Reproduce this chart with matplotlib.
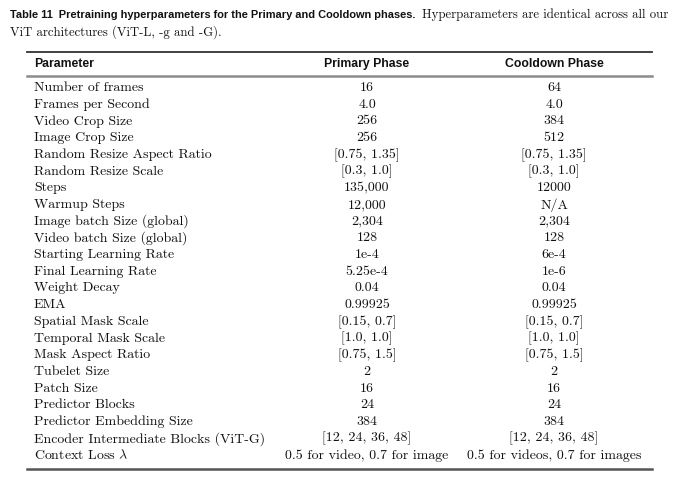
import matplotlib
matplotlib.use("Agg")
import matplotlib.pyplot as plt
from matplotlib.lines import Line2D

plt.rcParams['mathtext.fontset'] = 'cm'

caption_bold = "Table 11  Pretraining hyperparameters for the Primary and Cooldown phases."
caption_rest1 = "Hyperparameters are identical across all our"
caption_rest2 = "ViT architectures (ViT-L, -g and -G)."

headers = ["Parameter", "Primary Phase", "Cooldown Phase"]

parameters = [
    "Number of frames", "Frames per Second", "Video Crop Size", "Image Crop Size",
    "Random Resize Aspect Ratio", "Random Resize Scale", "Steps", "Warmup Steps",
    "Image batch Size (global)", "Video batch Size (global)", "Starting Learning Rate",
    "Final Learning Rate", "Weight Decay", "EMA", "Spatial Mask Scale",
    "Temporal Mask Scale", "Mask Aspect Ratio", "Tubelet Size", "Patch Size",
    "Predictor Blocks", "Predictor Embedding Size",
    "Encoder Intermediate Blocks (ViT-G)", r"Context Loss $\lambda$",
]
primary = [
    "16", "4.0", "256", "256", "[0.75, 1.35]", "[0.3, 1.0]", "135,000", "12,000",
    "2,304", "128", "1e-4", "5.25e-4", "0.04", "0.99925", "[0.15, 0.7]",
    "[1.0, 1.0]", "[0.75, 1.5]", "2", "16", "24", "384", "[12, 24, 36, 48]",
    "0.5 for video, 0.7 for image",
]
cooldown = [
    "64", "4.0", "384", "512", "[0.75, 1.35]", "[0.3, 1.0]", "12000", "N/A",
    "2,304", "128", "6e-4", "1e-6", "0.04", "0.99925", "[0.15, 0.7]",
    "[1.0, 1.0]", "[0.75, 1.5]", "2", "16", "24", "384", "[12, 24, 36, 48]",
    "0.5 for videos, 0.7 for images",
]

W, H = 680, 483
fig = plt.figure(figsize=(W / 100, H / 100), dpi=100)
fig.patch.set_facecolor("white")

def fx(x):
    return x / W

def fy(y):
    return 1 - y / H

SERIF = "cmr10"
SANS = "Liberation Sans"
fs_body = 10.0
fs_cap = 9.2

# caption
t1 = fig.text(fx(10), fy(15), caption_bold, fontfamily=SANS, fontweight="bold",
              fontsize=7.95, va="center", ha="left", color="#111111")
fig.canvas.draw()
bb = t1.get_window_extent()
x_end = bb.x1 / W
fig.text(x_end + fx(7), fy(15), caption_rest1, fontfamily=SERIF, fontsize=fs_cap,
         va="center", ha="left", color="#111111")
fig.text(fx(10), fy(32), caption_rest2, fontfamily=SERIF, fontsize=fs_cap,
         va="center", ha="left", color="#111111")

# rules
def rule(y, lw, color):
    fig.add_artist(Line2D([fx(27), fx(652)], [fy(y), fy(y)], lw=lw, color=color,
                          transform=fig.transFigure))

rule(52, 1.3, "#333333")
rule(76, 1.8, "#8c8c8c")
rule(469, 1.8, "#555555")

# header
col_x = [34, 367, 554]
fig.text(fx(col_x[0]), fy(64), headers[0], fontfamily=SANS, fontweight="bold",
         fontsize=8.8, va="center", ha="left", color="#111111")
for j in (1, 2):
    fig.text(fx(col_x[j]), fy(64), headers[j], fontfamily=SANS, fontweight="bold",
             fontsize=8.8, va="center", ha="center", color="#111111")

# rows
y0, dy = 88, 16.7
for i, (p, a, b) in enumerate(zip(parameters, primary, cooldown)):
    y = fy(y0 + i * dy)
    fig.text(fx(col_x[0]), y, p, fontfamily=SERIF, fontsize=fs_body,
             va="center", ha="left", color="#111111")
    fig.text(fx(col_x[1]), y, a, fontfamily=SERIF, fontsize=fs_body,
             va="center", ha="center", color="#111111")
    fig.text(fx(col_x[2]), y, b, fontfamily=SERIF, fontsize=fs_body,
             va="center", ha="center", color="#111111")

fig.savefig("out.png", dpi=100, facecolor="white")
